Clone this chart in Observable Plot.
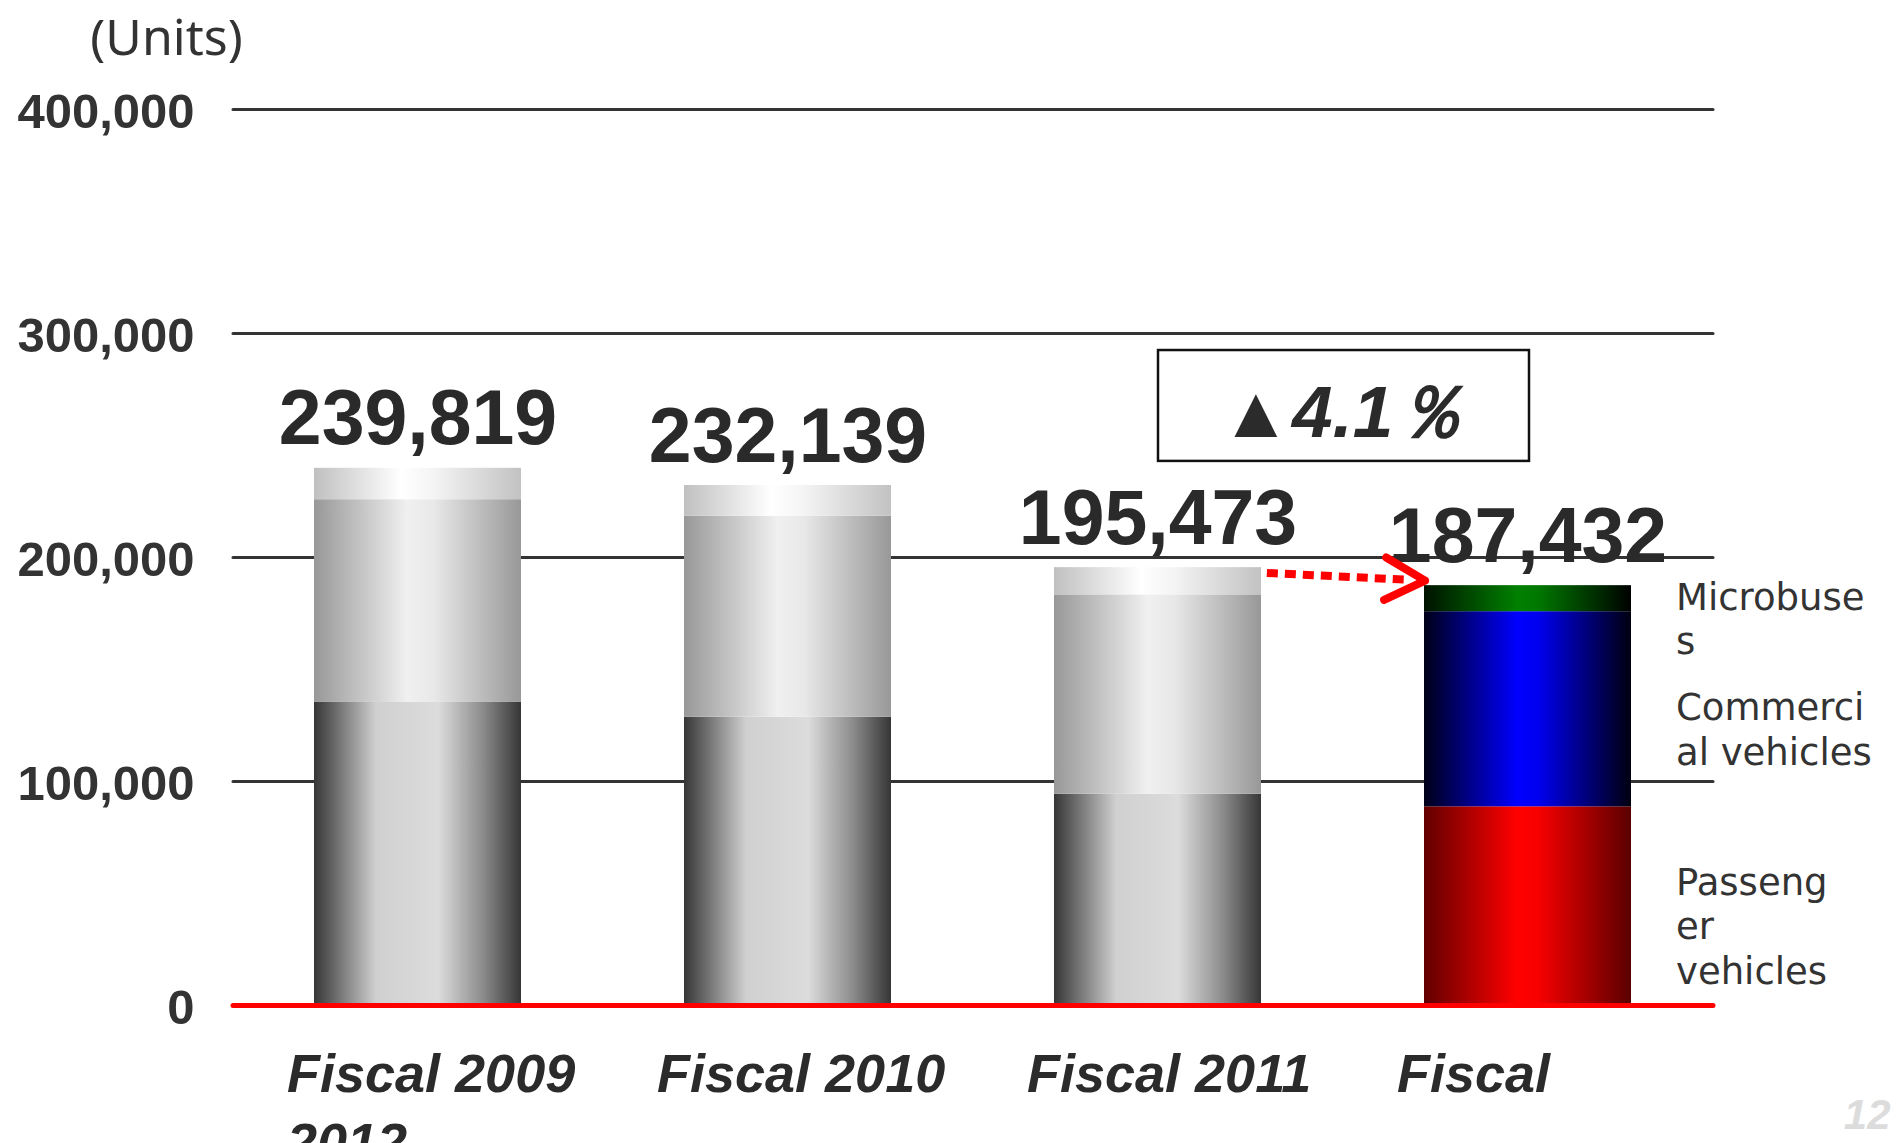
<!DOCTYPE html>
<html>
<head>
<meta charset="utf-8">
<script src="https://cdn.jsdelivr.net/npm/d3@7"></script>
<script src="https://cdn.jsdelivr.net/npm/@observablehq/plot@0.6"></script>
<style>
  html, body { margin: 0; padding: 0; background: #fff; }
  #chart svg { display: block; }
  g[aria-label="y-tick-labels"] text { letter-spacing: 1.5px; }
  g[aria-label="series-labels"] text { letter-spacing: 3px; }
</style>
</head>
<body>
<div id="chart"></div>
<script>
// ---- Data ----
const years = ["Fiscal 2009", "Fiscal 2010", "Fiscal 2011", "Fiscal 2012"];
const xTickLabels = ["Fiscal 2009", "Fiscal 2010", "Fiscal 2011", "Fiscal"];
const xOverflowLabel = "2012";
const seriesKeys = ["Passenger vehicles", "Commercial vehicles", "Microbuses"];
const seriesLabels = ["Passeng\ner\nvehicles", "Commerci\nal vehicles", "Microbuse\ns"];
const passenger = [135300, 128700, 94300, 88700];
const commercial = [90500, 89700, 89000, 87100];
const microbuses = [14019, 13739, 12173, 11632];
const totals = [239819, 232139, 195473, 187432];
const yTicks = [0, 100000, 200000, 300000, 400000];
const unitLabel = "(Units)";
const pageNumber = "12";

// ---- Build tables ----
const seriesValues = [passenger, commercial, microbuses];
const rows = [];
years.forEach((year, i) => {
  let base = 0;
  seriesKeys.forEach((key, s) => {
    const v = seriesValues[s][i];
    rows.push({year, series: key, s, value: v, y1: base, y2: base + v,
               mid: base + v / 2, label: seriesLabels[s], highlight: i === years.length - 1});
    base += v;
  });
});
const totalRows = years.map((year, i) => ({year, total: totals[i]}));
const fmt = d3.format(",");
const last = years.length - 1;
const changePct = ((1 - totals[last] / totals[last - 1]) * 100).toFixed(1);
const changeText = "▲" + changePct + "％";
const arrowData = [{from: years[last - 1], to: years[last], y1: totals[last - 1], y2: totals[last]}];

const gradients = {
  "grey-0": [[0, "#363636"], [0.3, "#d0d0d0"], [0.6, "#dcdcdc"], [0.82, "#8a8a8a"], [1, "#363636"]],
  "grey-1": [[0, "#989898"], [0.45, "#f0f0f0"], [0.58, "#e8e8e8"], [1, "#989898"]],
  "grey-2": [[0, "#c0c0c0"], [0.42, "#ffffff"], [0.58, "#f4f4f4"], [1, "#c2c2c2"]],
  "hl-0": [[0, "#620000"], [0.45, "#ff0000"], [0.55, "#f80000"], [1, "#5a0000"]],
  "hl-1": [[0, "#000018"], [0.45, "#0000ff"], [0.55, "#0000f0"], [1, "#000010"]],
  "hl-2": [[0, "#001200"], [0.45, "#008000"], [0.55, "#007800"], [1, "#000000"]]
};

const barMarks = [];
seriesKeys.forEach((key, s) => {
  barMarks.push(Plot.barY(rows.filter(r => r.s === s && !r.highlight),
    {x: "year", y1: "y1", y2: "y2", fill: `url(#grey-${s})`}));
  barMarks.push(Plot.barY(rows.filter(r => r.s === s && r.highlight),
    {x: "year", y1: "y1", y2: "y2", fill: `url(#hl-${s})`}));
});

const sans = "Liberation Sans, Arial, Helvetica, sans-serif";

const chart = Plot.plot({
  width: 1901,
  height: 1143,
  marginTop: 109,
  marginBottom: 138,
  marginLeft: 233,
  marginRight: 188,
  x: {domain: years, paddingInner: 0.44, paddingOuter: 0.22, axis: null},
  y: {domain: [0, 400000], axis: null},
  marks: [
    Plot.ruleY(yTicks.filter(t => t > 0), {stroke: "#333", strokeWidth: 3, strokeLinecap: "round"}),
    ...barMarks,
    Plot.ruleY([0], {stroke: "#ff0000", strokeWidth: 5, strokeLinecap: "round"}),
    // y tick labels
    Plot.text(yTicks, {y: d => d, text: d => fmt(d), frameAnchor: "left", textAnchor: "end",
      dx: -39, dy: 3, fontSize: 49, fontWeight: "bold", fontFamily: sans, fill: "#333",
      ariaLabel: "y-tick-labels"}),
    // unit label
    Plot.text([unitLabel], {text: d => d, frameAnchor: "top-left", textAnchor: "middle",
      lineAnchor: "bottom", dx: -67, dy: -55, fontSize: 50, fontFamily: "Noto Sans, sans-serif", fill: "#333"}),
    // x labels
    Plot.text(years.map((y, i) => ({year: y, label: xTickLabels[i]})), {x: "year", text: "label",
      frameAnchor: "bottom", textAnchor: "start", lineAnchor: "bottom", dx: -131, dy: 86,
      fontSize: 54, fontWeight: "bold", fontStyle: "italic", fontFamily: sans, fill: "#2b2b2b"}),
    Plot.text([{year: years[0], label: xOverflowLabel}], {x: "year", text: "label",
      frameAnchor: "bottom", textAnchor: "start", lineAnchor: "bottom", dx: -131, dy: 155,
      fontSize: 54, fontWeight: "bold", fontStyle: "italic", fontFamily: sans, fill: "#2b2b2b"}),
    // totals
    Plot.text(totalRows, {x: "year", y: "total", text: d => fmt(d.total), lineAnchor: "bottom",
      dy: -24, fontSize: 77, fontWeight: "bold", fontFamily: sans, fill: "#2a2a2a"}),
    // series labels next to the last bar
    Plot.text(rows.filter(r => r.highlight), {x: "year", y: "mid", text: "label", textAnchor: "start",
      lineAnchor: "middle", lineHeight: 1.2, dx: 148, dy: 19, fontSize: 37,
      fontFamily: "DejaVu Sans, sans-serif", fill: "#333", ariaLabel: "series-labels"}),
    // change box
    Plot.rect([changeText], {x1: () => years[last - 1], x2: () => years[last], y1: 242900, y2: 292400,
      insetLeft: 104, insetRight: 102, fill: "white", stroke: "#111", strokeWidth: 2.5}),
    Plot.text([changeText], {x: () => years[last], y: 253600, text: d => d, dx: -185, lineAnchor: "bottom",
      fontSize: 73, fontWeight: "bold", fontStyle: "italic", fontFamily: sans, fill: "#2b2b2b",
      ariaLabel: "change-label"}),
    // dotted arrow shaft
    Plot.arrow(arrowData, {x1: "from", x2: "to", y1: "y1", y2: "y2", stroke: "#ff0000",
      strokeWidth: 8, strokeDasharray: "11,7", strokeLinecap: "butt", headLength: 0,
      insetStart: 109, insetEnd: 122}),
    // solid arrow head
    Plot.arrow(arrowData, {x1: "from", x2: "to", y1: "y1", y2: "y2", stroke: "#ff0000",
      strokeWidth: 8, strokeLinecap: "round", headLength: 8.5, headAngle: 56,
      insetStart: 267, insetEnd: 103}),
    // page number
    Plot.text([pageNumber], {text: d => d, frameAnchor: "bottom-right", textAnchor: "end",
      lineAnchor: "bottom", dx: 177, dy: 123, fontSize: 42, fontWeight: "bold", fontStyle: "italic",
      fontFamily: sans, fill: "#dcdcdc"})
  ]
});

// gradient definitions
const defs = d3.select(chart).insert("defs", ":first-child");
for (const [id, stops] of Object.entries(gradients)) {
  const g = defs.append("linearGradient").attr("id", id)
    .attr("x1", "0").attr("x2", "1").attr("y1", "0").attr("y2", "0");
  for (const [o, c] of stops) g.append("stop").attr("offset", o).attr("stop-color", c);
}

// render the triangle glyph with an oblique-capable font, and the percent sign lighter
d3.select(chart).selectAll('g[aria-label="change-label"] text').each(function () {
  const t = this.textContent;
  const sel = d3.select(this);
  sel.text(null);
  sel.append("tspan").attr("font-family", "DejaVu Sans, sans-serif").attr("font-size", 70).text(t.slice(0, 1));
  sel.append("tspan").text(t.slice(1, -1));
  sel.append("tspan").attr("font-weight", "normal").text(t.slice(-1));
});

document.getElementById("chart").appendChild(chart);
</script>
</body>
</html>
